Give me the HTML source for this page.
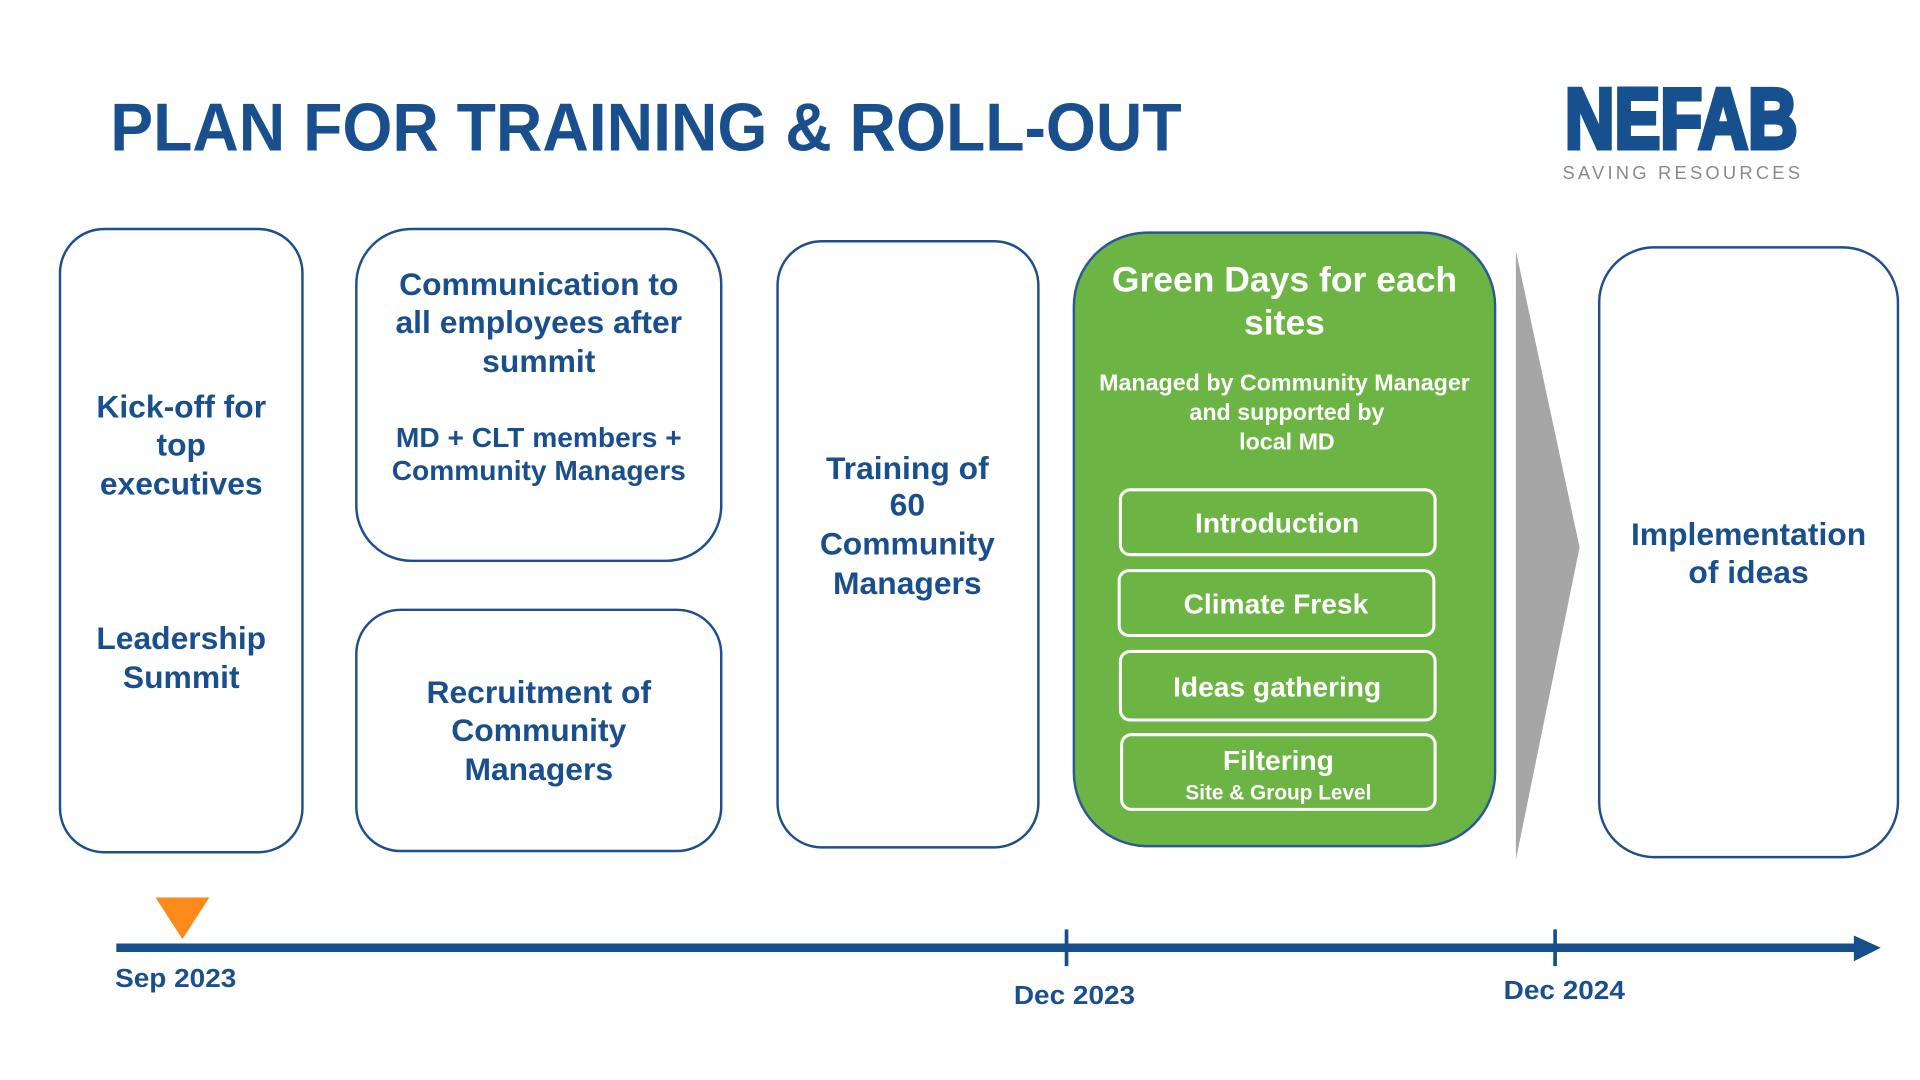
<!DOCTYPE html>
<html><head><meta charset="utf-8"><style>
html,body{margin:0;padding:0;background:#fff;width:1920px;height:1080px;overflow:hidden}
svg{display:block}
text{font-family:"Liberation Sans",Arial,sans-serif;font-weight:bold}
.b{fill:#1a4f8e;text-anchor:middle;font-size:26px}
.w{fill:#fff;text-anchor:middle}
.box{fill:#fff;stroke:#1f4e8c;stroke-width:2}
.btn{fill:none;stroke:#fff;stroke-width:2.5}
</style></head><body>
<svg width="1920" height="1080" viewBox="0 0 1568 882" preserveAspectRatio="none">
<text x="90" y="123" font-size="55" fill="#1a4f8e" textLength="875" lengthAdjust="spacingAndGlyphs">PLAN FOR TRAINING &amp; ROLL-OUT</text>
<text x="1278" y="121" font-size="70" fill="#16508e" stroke="#16508e" stroke-width="4" textLength="190" lengthAdjust="spacingAndGlyphs" style="font-weight:900">NEFAB</text>
<text x="1276" y="146" font-size="15" fill="#8a8a8a" textLength="194" lengthAdjust="spacing" style="font-weight:normal">SAVING RESOURCES</text>

<rect class="box" x="49" y="187" width="198" height="509" rx="36"/>
<text class="b" x="148" y="341">Kick-off for</text>
<text class="b" x="148" y="372">top</text>
<text class="b" x="148" y="404">executives</text>
<text class="b" x="148" y="530">Leadership</text>
<text class="b" x="148" y="562">Summit</text>

<rect class="box" x="291" y="187" width="298" height="271" rx="45"/>
<text class="b" x="440" y="241">Communication to</text>
<text class="b" x="440" y="272">all employees after</text>
<text class="b" x="440" y="304">summit</text>
<text class="b" x="440" y="365" style="font-size:23px">MD + CLT members +</text>
<text class="b" x="440" y="392" style="font-size:23px">Community Managers</text>

<rect class="box" x="291" y="498" width="298" height="197" rx="36"/>
<text class="b" x="440" y="574">Recruitment of</text>
<text class="b" x="440" y="605">Community</text>
<text class="b" x="440" y="637">Managers</text>

<rect class="box" x="635" y="197" width="213" height="495" rx="36"/>
<text class="b" x="741" y="391">Training of</text>
<text class="b" x="741" y="421">60</text>
<text class="b" x="741" y="453">Community</text>
<text class="b" x="741" y="485">Managers</text>

<rect x="877" y="190" width="344" height="501" rx="60" fill="#6cb443" stroke="#2b5797" stroke-width="2"/>
<text class="w" x="1049" y="238" font-size="29">Green Days for each</text>
<text class="w" x="1049" y="273" font-size="29">sites</text>
<text class="w" x="1049" y="319" font-size="19">Managed by Community Manager</text>
<text class="w" x="1051" y="343" font-size="19">and supported by</text>
<text class="w" x="1051" y="367" font-size="19">local MD</text>
<rect class="btn" x="915" y="400" width="257" height="53" rx="8"/>
<text class="w" x="1043" y="435" font-size="23">Introduction</text>
<rect class="btn" x="914" y="466" width="257" height="53" rx="8"/>
<text class="w" x="1042" y="501" font-size="23">Climate Fresk</text>
<rect class="btn" x="915" y="532" width="257" height="56" rx="8"/>
<text class="w" x="1043" y="569" font-size="23">Ideas gathering</text>
<rect class="btn" x="916" y="600" width="256" height="61" rx="8"/>
<text class="w" x="1044" y="629" font-size="23">Filtering</text>
<text class="w" x="1044" y="653" font-size="17">Site &amp; Group Level</text>

<polygon points="1238,205 1290,447 1238,702" fill="#a6a6a6"/>

<rect class="box" x="1306" y="202" width="244" height="498" rx="45"/>
<text class="b" x="1428" y="445">Implementation</text>
<text class="b" x="1428" y="476">of ideas</text>

<line x1="95" y1="774" x2="1518" y2="774" stroke="#174e8c" stroke-width="7"/>
<polygon points="1514,764 1536,774 1514,785" fill="#174e8c"/>
<line x1="871" y1="759" x2="871" y2="789" stroke="#174e8c" stroke-width="3"/>
<line x1="1270" y1="759" x2="1270" y2="789" stroke="#174e8c" stroke-width="3"/>
<polygon points="127,733 171,733 149,767" fill="#fb8a1a"/>
<text x="94" y="806" font-size="21" fill="#1a4f8e" textLength="99" lengthAdjust="spacingAndGlyphs">Sep 2023</text>
<text x="828" y="820" font-size="21" fill="#1a4f8e" textLength="99" lengthAdjust="spacingAndGlyphs">Dec 2023</text>
<text x="1228" y="816" font-size="21" fill="#1a4f8e" textLength="99" lengthAdjust="spacingAndGlyphs">Dec 2024</text>
</svg>
</body></html>
